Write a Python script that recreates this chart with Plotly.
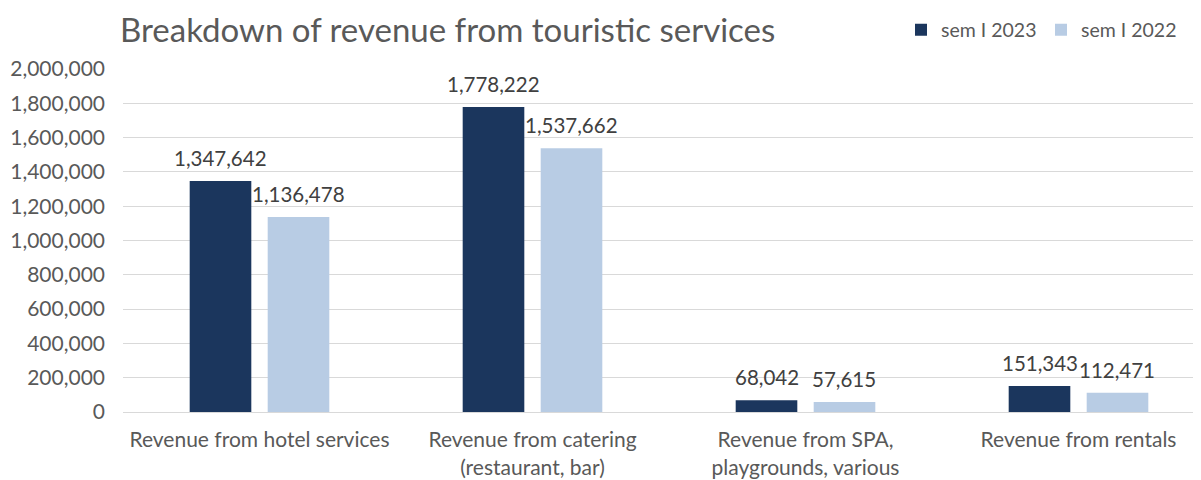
import plotly.graph_objects as go

categories = [
    "Revenue from hotel services",
    "Revenue from catering<br>(restaurant, bar)",
    "Revenue from SPA,<br>playgrounds, various",
    "Revenue from rentals",
]
series_names = ["sem I 2023", "sem I 2022"]
values_2023 = [1347642, 1778222, 68042, 151343]
values_2022 = [1136478, 1537662, 57615, 112471]
tick_vals = [0, 200000, 400000, 600000, 800000, 1000000, 1200000, 1400000, 1600000, 1800000, 2000000]

FONT = "Lato, Open Sans, sans-serif"
colors = ["#1B365D", "#B8CCE4"]

# page has an 8px body margin, so the figure is sized to fit the window
W, H = 1193, 472
ML, MR, MT, MB = 115, 0, 61, 68
BARGAP, BARGROUPGAP = 0.4286, 0.21
CAT_PX = 273  # pixel width of one category band (plot area runs past the right edge)
plot_w = W - ML - MR
plot_h = H - MT - MB
x_range = [-0.5, -0.5 + plot_w / CAT_PX]

legend_ids = ["legend", "legend2"]
legend_right = [1034, 1174]  # figure px of each legend's right edge

fig = go.Figure()
for name, vals, col, lid in zip(series_names, [values_2023, values_2022], colors, legend_ids):
    fig.add_trace(go.Bar(
        x=categories, y=vals, name=name, marker=dict(color=col, line=dict(width=0)),
        legend=lid, showlegend=True,
    ))

# data labels above each bar, offset to the bar's slot within its group
slot_w = CAT_PX * (1 - BARGAP) / 2
annotations = []
for si, vals in enumerate([values_2023, values_2022]):
    shift = (si - 0.5) * slot_w
    for cat, v in zip(categories, vals):
        annotations.append(dict(
            x=cat, y=v, xref="x", yref="y", text=f"{v:,}", showarrow=False,
            xshift=shift, yshift=9, yanchor="bottom",
            font=dict(size=20.5, color="#404040", family=FONT),
        ))

legend_style = dict(orientation="h", xanchor="right", y=1 + 39/plot_h, yanchor="middle",
                    font=dict(size=19.5, color="#595959", family=FONT), visible=True)

fig.update_layout(
    width=W, height=H,
    margin=dict(l=ML, r=MR, t=MT, b=MB),
    paper_bgcolor="white", plot_bgcolor="white",
    barmode="group", bargap=BARGAP, bargroupgap=BARGROUPGAP,
    font=dict(family=FONT, color="#595959", size=21),
    showlegend=True,
    title=dict(text="Breakdown of revenue from touristic services", x=112/W, xanchor="left",
               y=1 - 22/H, yanchor="middle", font=dict(size=33, color="#595959", family=FONT)),
    legend=dict(x=(legend_right[0] - ML) / plot_w, **legend_style),
    legend2=dict(x=(legend_right[1] - ML) / plot_w, **legend_style),
    annotations=annotations,
)
fig.update_yaxes(range=[0, 2000000], tickvals=tick_vals, tickformat=",d", automargin=False,
                 showgrid=True, gridcolor="#D9D9D9", gridwidth=1, zeroline=False,
                 showline=False, ticks="", ticklabelstandoff=17, tickfont=dict(size=21, color="#595959"))
fig.update_xaxes(range=x_range, showline=True, linecolor="#D9D9D9", linewidth=1, ticks="",
                 automargin=False, ticklabelstandoff=9,
                 tickfont=dict(size=21, color="#595959"))

fig.write_html("out.html")
